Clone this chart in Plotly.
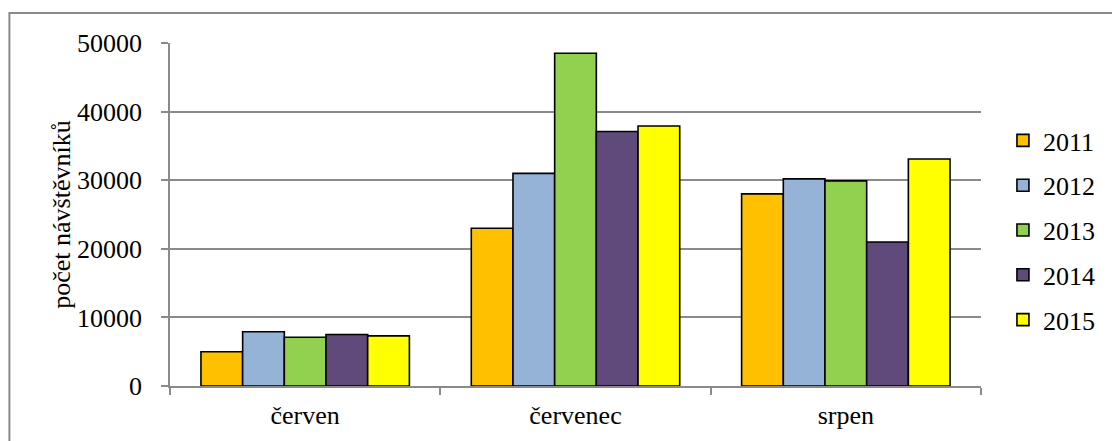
import plotly.graph_objects as go

# Visitor counts per summer month, one series per year
months = ["červen", "červenec", "srpen"]
years = ["2011", "2012", "2013", "2014", "2015"]
visitors_2011 = [5000, 23000, 28000]
visitors_2012 = [7900, 31000, 30200]
visitors_2013 = [7100, 48500, 29900]
visitors_2014 = [7500, 37100, 21000]
visitors_2015 = [7300, 37900, 33100]
series = [visitors_2011, visitors_2012, visitors_2013, visitors_2014, visitors_2015]
colors = ["#FFC000", "#95B3D7", "#92D050", "#604A7B", "#FFFF00"]

FONT = "Liberation Serif"
FSIZE = 26
GRID = "#8a8a8a"

W, H = 1112, 441
L, R, T, B = 170, 129, 43, 55
plot_w = W - L - R
plot_h = H - T - B

fig = go.Figure()
for year, vals, col in zip(years, series, colors):
    fig.add_trace(go.Bar(
        name=year,
        x=months,
        y=vals,
        legendgroup=year,
        marker=dict(color=col, line=dict(color="#000000", width=1.6)),
    ))

fig.update_layout(
    width=W, height=H,
    margin=dict(l=L, r=R, t=T, b=B, pad=0),
    paper_bgcolor="white",
    plot_bgcolor="white",
    barmode="group",
    bargap=0.229,
    bargroupgap=0,
    font=dict(family=FONT, size=FSIZE, color="#000000"),
    showlegend=True,
    legend=dict(
        x=(1005 - L) / plot_w, xanchor="left",
        y=(H - B - 230.5) / plot_h, yanchor="middle",
        font=dict(family=FONT, size=FSIZE, color="#000000"),
        tracegroupgap=8,
        bgcolor="rgba(0,0,0,0)",
        borderwidth=0,
    ),
    xaxis=dict(
        type="category",
        showline=True, linecolor=GRID, linewidth=1.5,
        ticks="outside", tickson="boundaries", ticklen=7,
        tickcolor=GRID, tickwidth=1.5,
        showgrid=False,
        ticklabelstandoff=5,
        tickfont=dict(family=FONT, size=FSIZE, color="#000000"),
    ),
    yaxis=dict(
        range=[0, 50000], dtick=10000, tick0=0,
        showline=True, linecolor=GRID, linewidth=1.5,
        ticks="outside", ticklen=7, tickcolor=GRID, tickwidth=1.5,
        showgrid=True, gridcolor=GRID, gridwidth=1.5,
        zeroline=False,
        tickformat="d",
        ticklabelstandoff=14,
        tickfont=dict(family=FONT, size=FSIZE, color="#000000"),
    ),
    annotations=[dict(
        text="počet návštěvníků",
        textangle=-90,
        xref="paper", yref="paper",
        x=(61 - L) / plot_w, y=0.5,
        xanchor="center", yanchor="middle",
        showarrow=False,
        font=dict(family=FONT, size=FSIZE, color="#000000"),
    )],
    shapes=[dict(
        type="rect", xref="paper", yref="paper",
        x0=(9 - L) / plot_w, x1=(W + 20 - L) / plot_w,
        y0=(H - B - (H + 20)) / plot_h, y1=(H - B - 13) / plot_h,
        line=dict(color=GRID, width=2),
        fillcolor="rgba(0,0,0,0)",
        layer="below",
    )],
)

fig.write_html("out.html")
